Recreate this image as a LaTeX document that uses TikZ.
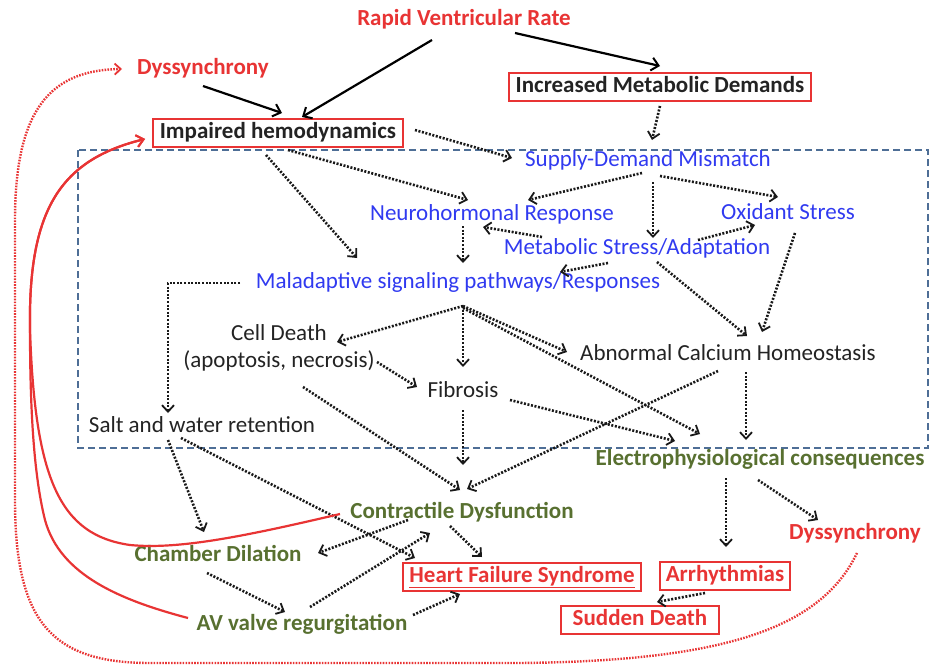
\documentclass[tikz,border=0pt]{standalone}
\usepackage{fontspec}
\setmainfont{Carlito}
\usetikzlibrary{arrows.meta,calc}
\definecolor{rd}{RGB}{232,52,52}
\definecolor{bl}{RGB}{48,58,240}
\definecolor{gr}{RGB}{88,112,48}
\definecolor{tx}{RGB}{35,35,35}
\definecolor{bx}{RGB}{78,110,150}
\begin{document}
\begin{tikzpicture}[x=1pt,y=-1pt,
  every node/.style={inner sep=0pt, align=center, text height=16pt, text depth=5pt},
  rtxt/.style={text=rd, font=\fontsize{23}{27}\selectfont\bfseries},
  btxt/.style={text=bl, font=\fontsize{23}{27}\selectfont},
  ktxt/.style={text=tx, font=\fontsize{23}{27}\selectfont},
  gtxt/.style={text=gr, font=\fontsize{23}{27}\selectfont\bfseries},
  kbold/.style={text=tx, font=\fontsize{23}{27}\selectfont\bfseries},
  rbox/.style={draw=rd, line width=2pt, inner xsep=7pt, inner ysep=3.5pt},
  dt/.style={draw=black!90, line width=2.6pt, dash pattern=on 2pt off 1.6pt,
     -{Straight Barb[length=6.5pt,width=12pt,line width=1.8pt]}},
  sl/.style={draw=black, line width=2.2pt, -{Straight Barb[length=7pt,width=13pt,line width=2pt]}},
  rc/.style={draw=rd, line width=2.2pt, -{Straight Barb[length=7pt,width=12pt,line width=2pt]}},
  rdot/.style={draw=rd, line width=2.4pt, dash pattern=on 1.6pt off 1.3pt,
     -{Straight Barb[length=6pt,width=11pt,line width=1.8pt]}},
]
\useasboundingbox (0,0) rectangle (931,666);
% dashed region
\draw[bx, line width=2.2pt, dash pattern=on 7pt off 4pt] (78,150) rectangle (928,448);

% nodes
\node[rtxt] (rvr) at (464,20) {Rapid Ventricular Rate};
\node[rtxt] (dysT) at (203,69) {Dyssynchrony};
\node[kbold, rbox] (imp) at (278,133) {Impaired hemodynamics};
\node[kbold, rbox] (imd) at (660,87) {Increased Metabolic Demands};
\node[btxt] (sdm) at (648,161) {Supply-Demand Mismatch};
\node[btxt] (neu) at (492,215) {Neurohormonal Response};
\node[btxt] (oxi) at (788,214) {Oxidant Stress};
\node[btxt] (met) at (637,249) {Metabolic Stress/Adaptation};
\node[btxt] (mal) at (458,283) {Maladaptive signaling pathways/Responses};
\node[ktxt, text height=, text depth=] (cell) at (279,348) {Cell Death\\(apoptosis, necrosis)};
\node[ktxt] (fib) at (463,392) {Fibrosis};
\node[ktxt] (aca) at (728,355) {Abnormal Calcium Homeostasis};
\node[ktxt] (salt) at (202,427) {Salt and water retention};
\node[gtxt] (elec) at (760,460) {Electrophysiological consequences};
\node[gtxt] (con) at (462,513) {Contractile Dysfunction};
\node[gtxt] (cham) at (218,556) {Chamber Dilation};
\node[rtxt, rbox, inner xsep=6pt] (hfs) at (522,577) {\underline{Heart Failure Syndrome}};
\node[rtxt, rbox, inner xsep=6pt] (arr) at (725,576) {Arrhythmias};
\node[rtxt] (dysR) at (855,534) {Dyssynchrony};
\node[rtxt, rbox, inner xsep=12pt] (sud) at (640,620) {Sudden Death};
\node[gtxt] (av) at (302,625) {AV valve regurgitation};

% solid arrows
\draw[sl] ($(rvr)+(-32,20)$) -- ($(imp)+(24,-16)$);
\draw[sl] ($(dysT)+(0,17)$) -- ($(imp)+(4,-20)$);
\draw[sl] ($(rvr)+(51,13)$) -- ($(imd)+(0,-21)$);

% dotted arrows
\draw[dt] ($(imp)+(137,-3)$) -- ($(sdm)+(-136,-3)$);
\draw[dt] ($(imd)+(0,19)$) -- ($(sdm)+(4,-21)$);
\draw[dt] ($(imp)+(10,17)$) -- ($(neu)+(-24,-15)$);
\draw[dt] ($(imp)+(-12,22)$) -- ($(mal)+(-101,-25)$);
\draw[dt] ($(sdm)+(-6,12)$) -- ($(neu)+(36,-15)$);
\draw[dt] ($(sdm)+(5,21)$) -- ($(met)+(16,-11)$);
\draw[dt] ($(sdm)+(12,15)$) -- ($(oxi)+(-10,-17)$);
\draw[dt] ($(neu)+(-29,11)$) -- ($(mal)+(5,-20)$);
\draw[dt] ($(met)+(-95,-12)$) -- ($(neu)+(-9,12)$);
\draw[dt] ($(met)+(61,-9)$) -- ($(oxi)+(-33,11)$);
\draw[dt] ($(met)+(-29,14)$) -- ($(mal)+(102,-11)$);
\draw[dt] ($(met)+(20,13)$) -- ($(aca)+(19,-19)$);
\draw[dt] ($(oxi)+(7,19)$) -- ($(aca)+(34,-23)$);
\draw[dt] ($(mal)+(-218,0)$) -| ($(salt)+(-34,-14)$);
\draw[dt] ($(mal)+(5,23)$) -- ($(cell)+(58,-6)$);
\draw[dt] ($(mal)+(5,23)$) -- ($(fib)+(0,-25)$);
\draw[dt] ($(mal)+(5,23)$) -- ($(aca)+(-161,-3)$);
\draw[dt] ($(mal)+(5,25)$) -- ($(elec)+(-60,-26)$);
\draw[dt] ($(cell)+(98,14)$) -- ($(fib)+(-46,-5)$);
\draw[dt] ($(cell)+(24,39)$) -- ($(con)+(-2,-23)$);
\draw[dt] ($(fib)+(0,18)$) -- ($(con)+(1,-48)$);
\draw[dt] ($(fib)+(47,8)$) -- ($(elec)+(-85,-19)$);
\draw[dt] ($(aca)+(-10,16)$) -- ($(con)+(5,-24)$);
\draw[dt] ($(aca)+(18,17)$) -- ($(elec)+(-14,-20)$);
\draw[dt] ($(salt)+(-34,13)$) -- ($(cham)+(-14,-24)$);
\draw[dt] ($(salt)+(-21,11)$) -- ($(hfs)+(-107,-19)$);
\draw[dt] ($(con)+(-54,7)$) -- ($(cham)+(100,-3)$);
\draw[dt] ($(av)+(8,-18)$) -- ($(con)+(-32,20)$);
\draw[dt] ($(con)+(-12,13)$) -- ($(hfs)+(-40,-20)$);
\draw[dt] ($(cham)+(-11,17)$) -- ($(av)+(-17,-13)$);
\draw[dt] ($(av)+(111,-10)$) -- ($(hfs)+(-62,17)$);
\draw[dt] ($(elec)+(-34,18)$) -- ($(arr)+(1,-29)$);
\draw[dt] ($(elec)+(-2,20)$) -- ($(dysR)+(-37,-14)$);
\draw[dt] ($(arr)+(-20,17)$) -- ($(sud)+(17,-18)$);

% red solid curves
\coordinate (mrg) at (30,330);
\draw[rc] ($(con)+(-122,1)$) .. controls (250,535) and (180,550) .. (130,545)
  .. controls (60,535) and (35,480) .. (mrg)
  .. controls (28,210) and (60,160) .. ($(imp)+(-133,6)$);
\draw[rc] ($(av)+(-114,-7)$) .. controls (120,600) and (60,575) .. (45,520)
  .. controls (35,480) and (30,420) .. (mrg)
  .. controls (28,210) and (60,160) .. ($(imp)+(-133,6)$);

% red dotted curve
\draw[rdot] ($(dysR)+(2,19)$) .. controls (820,630) and (720,661) .. (520,663)
  -- (150,663) .. controls (50,663) and (15,620) .. (15,500)
  -- (15,220) .. controls (15,110) and (50,70) .. ($(dysT)+(-81,0)$);
\end{tikzpicture}
\end{document}
